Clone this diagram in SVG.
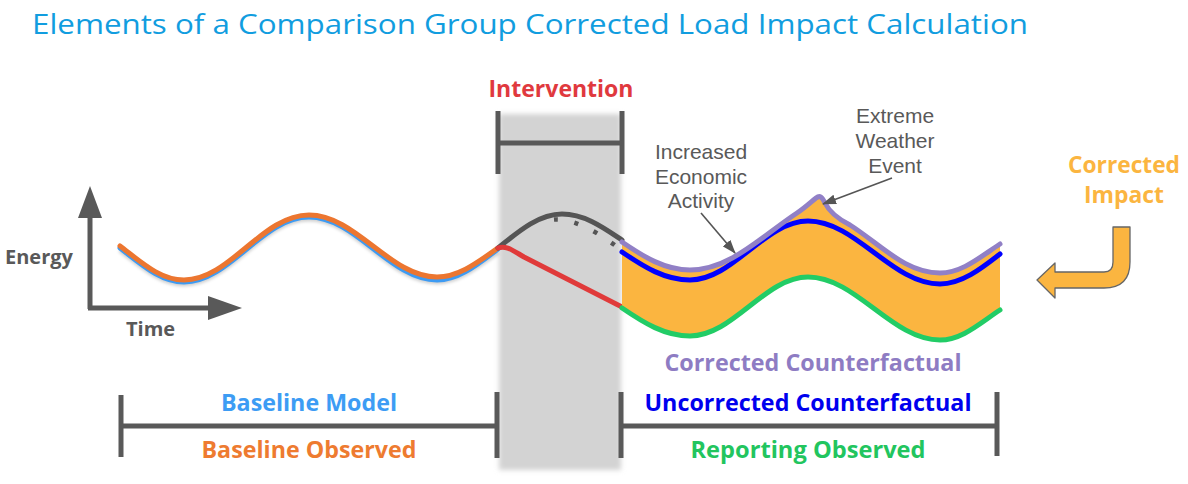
<svg xmlns="http://www.w3.org/2000/svg" width="1188" height="484" viewBox="0 0 1188 484">
<defs>
<style>
.lbl{font-family:"Open Sans","Liberation Sans",sans-serif;font-weight:700;font-size:23px;text-anchor:middle}
.ann{font-family:"Liberation Sans",Arial,sans-serif;font-size:21px;fill:#595959;text-anchor:middle}
.br{stroke:#595959;stroke-width:5;fill:none}
.crv{fill:none;stroke-width:5;stroke-linecap:round;stroke-linejoin:round}
.ax{font-family:"Open Sans","Liberation Sans",sans-serif;font-weight:700;font-size:20px;fill:#595959}
</style>
<filter id="soft" x="-10%" y="-5%" width="120%" height="110%"><feGaussianBlur stdDeviation="2.5"/></filter>
<filter id="shd" x="-5%" y="-20%" width="110%" height="140%"><feGaussianBlur stdDeviation="1.5"/></filter>
<marker id="ah" markerUnits="userSpaceOnUse" markerWidth="14" markerHeight="10" refX="13" refY="5" orient="auto"><path d="M0,0 L14,5 L0,10 z" fill="#555"/></marker>
</defs>
<rect width="1188" height="484" fill="#fff"/>
<g id="title"><text x="32" y="34" font-family="'Open Sans','Liberation Sans',sans-serif" font-size="28" fill="#119ddf" textLength="996" lengthAdjust="spacingAndGlyphs">Elements of a Comparison Group Corrected Load Impact Calculation</text></g>

<g id="intervention-zone">
<rect x="499" y="114" width="122" height="356" fill="#d3d3d3" filter="url(#soft)"/>
</g>

<g id="axes">
<line x1="90" y1="309" x2="90" y2="216" stroke="#595959" stroke-width="5"/>
<polygon points="78,218 102,218 90,186" fill="#595959"/>
<line x1="88" y1="308" x2="210" y2="308" stroke="#595959" stroke-width="5"/>
<polygon points="208,296 208,320 242,308" fill="#595959"/>
<text class="ax" x="5" y="264">Energy</text>
<text class="ax" x="126" y="336">Time</text>
</g>

<g id="baseline-curves">
<path d="M120,250 C141,266 160,284 184,284 C230,284 262,219 309,219 C356,219 390,282 437,282 C459,282 478,266 498,252" fill="none" stroke="#000" stroke-opacity="0.18" stroke-width="5" filter="url(#shd)"/>
<path class="crv" d="M120,248 C141,264 160,282 184,282 C230,282 262,217 309,217 C356,217 390,280 437,280 C459,280 478,264 498,249" stroke="#3d9bf3"/>
<path class="crv" d="M120,246 C141,262 160,280 184,280 C230,280 262,215 309,215 C356,215 390,277 437,277 C459,277 478,262 498,248" stroke="#ec7630"/>
</g>

<g id="intervention-curves">
<path class="crv" d="M498,248 C519,231 539,214 562,214 C585,214 604,228 622,240" stroke="#555"/>
<path d="M554,219.5 Q578,218 616,246" fill="none" stroke="#555" stroke-width="4.5" stroke-dasharray="4 17"/>
<path class="crv" d="M498,248 C506,245 512,250 524,257 L622,307" stroke="#e03a3a"/>
</g>

<g id="impact-area">
<path d="M622,242 C644,257 665,270 690,270 C730,270 762,236 797,213 C806,207 812,201 816,198 C820,195 822,197 825,203 C830,213 840,220 850,225 C880,244 905,273 940,273 C962,273 980,257 1000,244 L1000,310 C980,323 962,340 940,340 C892,340 856,277 808,277 C765,277 733,336 690,336 C665,336 644,323 622,308 Z" fill="#fbb540"/>
<path class="crv" d="M622,308 C644,323 665,336 690,336 C733,336 765,277 808,277 C856,277 892,340 940,340 C962,340 980,323 1000,310" stroke="#22cc66"/>
<path class="crv" d="M622,252 C644,267 665,280 690,280 C733,280 765,221 808,221 C856,221 892,284 940,284 C962,284 982,268 1000,254" stroke="#0000ff"/>
<path class="crv" d="M622,242 C644,257 665,270 690,270 C730,270 762,236 797,213 C806,207 812,201 816,198 C820,195 822,197 825,203 C830,213 840,220 850,225 C880,244 905,273 940,273 C962,273 980,257 1000,244" stroke="#9180c6"/>
</g>

<g id="intervention-bracket">
<line class="br" x1="498" y1="111" x2="498" y2="174"/>
<line class="br" x1="622" y1="111" x2="622" y2="174"/>
<line class="br" x1="498" y1="143" x2="622" y2="143"/>
<text class="lbl" x="561" y="97" fill="#e0393e" textLength="145" lengthAdjust="spacingAndGlyphs">Intervention</text>
</g>

<g id="baseline-bracket">
<line class="br" x1="121" y1="395" x2="121" y2="457"/>
<line class="br" x1="497" y1="392" x2="497" y2="458"/>
<line class="br" x1="121" y1="426" x2="497" y2="426"/>
<text class="lbl" x="309" y="411" fill="#3d9cf4" textLength="176" lengthAdjust="spacingAndGlyphs">Baseline Model</text>
<text class="lbl" x="309" y="458" fill="#ee7b30" textLength="215" lengthAdjust="spacingAndGlyphs">Baseline Observed</text>
</g>

<g id="reporting-bracket">
<line class="br" x1="621" y1="392" x2="621" y2="458"/>
<line class="br" x1="997" y1="392" x2="997" y2="456"/>
<line class="br" x1="621" y1="426" x2="997" y2="426"/>
<text class="lbl" x="808" y="411" fill="#0000ee" textLength="327" lengthAdjust="spacingAndGlyphs">Uncorrected Counterfactual</text>
<text class="lbl" x="808" y="458" fill="#22c55e" textLength="235" lengthAdjust="spacingAndGlyphs">Reporting Observed</text>
</g>

<g id="corrected-counterfactual-label">
<text class="lbl" x="813" y="371" fill="#8e7cc3" textLength="297" lengthAdjust="spacingAndGlyphs">Corrected Counterfactual</text>
</g>

<g id="economic-note">
<text class="ann" x="701" y="159">Increased</text>
<text class="ann" x="701" y="184">Economic</text>
<text class="ann" x="701" y="208">Activity</text>
</g>

<g id="weather-note">
<text class="ann" x="895" y="123">Extreme</text>
<text class="ann" x="895" y="148">Weather</text>
<text class="ann" x="895" y="173">Event</text>
</g>

<g id="connectors">
<line x1="701" y1="213" x2="735" y2="253" stroke="#555" stroke-width="1.6" marker-end="url(#ah)"/>
<line x1="892" y1="178" x2="823" y2="204" stroke="#555" stroke-width="1.6" marker-end="url(#ah)"/>
</g>

<g id="corrected-impact">
<text class="lbl" x="1124" y="173" fill="#fbb540" textLength="112" lengthAdjust="spacingAndGlyphs">Corrected</text>
<text class="lbl" x="1124" y="203" fill="#fbb540" textLength="80" lengthAdjust="spacingAndGlyphs">Impact</text>
<path d="M1113,227 L1130,227 L1130,262 Q1130,288 1104,288 L1055,288 L1055,298 L1037,280 L1055,263 L1055,272 L1104,272 Q1113,272 1113,262 Z" fill="#fbb540" stroke="#666" stroke-width="1.3" stroke-linejoin="round"/>
</g>
</svg>
